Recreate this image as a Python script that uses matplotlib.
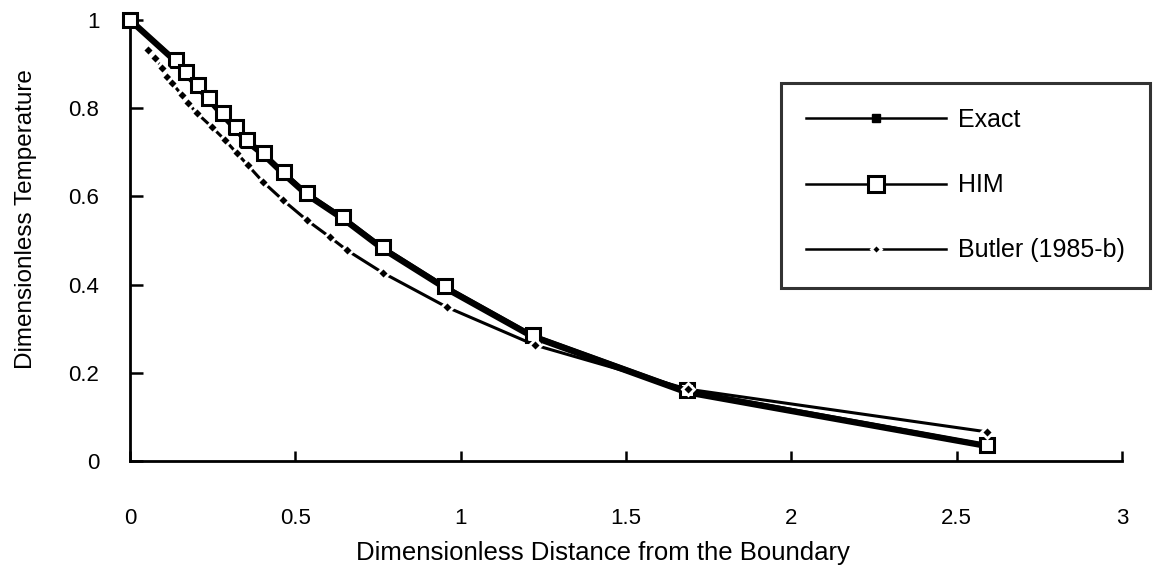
import matplotlib
matplotlib.use("Agg")
import matplotlib.pyplot as plt

# temperature profiles vs. distance from the boundary
him_x = [0.0, 0.14, 0.17, 0.205, 0.24, 0.28, 0.32, 0.355, 0.405, 0.465, 0.535, 0.645, 0.765, 0.952, 1.218, 1.683, 2.592]
him_y = [1.0, 0.909, 0.882, 0.853, 0.823, 0.789, 0.757, 0.728, 0.698, 0.655, 0.608, 0.553, 0.485, 0.397, 0.286, 0.160, 0.036]

exact_x = [0.0, 0.14, 0.17, 0.205, 0.24, 0.28, 0.32, 0.355, 0.405, 0.465, 0.535, 0.645, 0.765, 0.952, 1.218, 1.683, 2.592]
exact_y = [1.0, 0.905, 0.878, 0.849, 0.819, 0.785, 0.753, 0.724, 0.694, 0.651, 0.604, 0.549, 0.481, 0.393, 0.282, 0.156, 0.034]

butler_x = [0.054, 0.076, 0.097, 0.112, 0.127, 0.157, 0.175, 0.202, 0.248, 0.287, 0.323, 0.356,
            0.402, 0.462, 0.535, 0.604, 0.656, 0.764, 0.958, 1.224, 1.686, 2.592]
butler_y = [0.932, 0.914, 0.891, 0.871, 0.857, 0.830, 0.812, 0.789, 0.757, 0.728, 0.698, 0.671,
            0.633, 0.592, 0.546, 0.508, 0.478, 0.427, 0.349, 0.263, 0.163, 0.066]

x_ticks = [0, 0.5, 1, 1.5, 2, 2.5, 3]
x_tick_labels = ["0", "0.5", "1", "1.5", "2", "2.5", "3"]
y_ticks = [0, 0.2, 0.4, 0.6, 0.8, 1]
y_tick_labels = ["0", "0.2", "0.4", "0.6", "0.8", "1"]

plt.rcParams["font.family"] = ["Liberation Sans", "DejaVu Sans"]

fig = plt.figure(figsize=(11.57, 5.67), dpi=100)
ax = fig.add_axes([130 / 1157, 1 - 461 / 567, 992 / 1157, 441 / 567])

ax.plot(exact_x, exact_y, color="black", lw=4.5, marker="s", ms=5,
        mfc="black", mec="black", clip_on=False, zorder=3, label="Exact")
ax.plot(him_x, him_y, color="black", lw=2.5, marker="s", ms=10,
        mfc="white", mec="black", mew=2.2, clip_on=False, zorder=4, label="HIM")
ax.plot(butler_x, butler_y, color="black", lw=2.2, linestyle="-",
        marker="D", ms=6, mfc="black", mec="white", mew=2.0,
        clip_on=False, zorder=5, label="Butler (1985-b)")

ax.set_xlim(0, 3)
ax.set_ylim(0, 1)
ax.spines["top"].set_visible(False)
ax.spines["right"].set_visible(False)
for side in ("left", "bottom"):
    ax.spines[side].set_linewidth(2)

ax.set_xticks(x_ticks)
ax.set_xticklabels(x_tick_labels)
ax.set_yticks(y_ticks)
ax.set_yticklabels(y_tick_labels)
ax.tick_params(axis="both", direction="in", width=1.8, labelsize=16)
ax.tick_params(axis="x", length=7, pad=34)
ax.tick_params(axis="y", length=9, pad=22)

ax.set_xlabel("Dimensionless Distance from the Boundary", fontsize=18.5)
ax.xaxis.set_label_coords((603 - 130) / 992, -(541 - 461) / 441)
ax.set_ylabel("Dimensionless Temperature", fontsize=17.5)
ax.yaxis.set_label_coords((37 - 130) / 992, (461 - 219) / 441)

leg = ax.legend(loc="upper left", bbox_to_anchor=(781 / 1157, 1 - 83 / 567),
                bbox_transform=fig.transFigure, borderaxespad=0, frameon=True,
                fancybox=False, fontsize=18, handlelength=5.6, handletextpad=0.5,
                labelspacing=1.65, borderpad=1.0)
leg.get_frame().set_edgecolor("black")
leg.get_frame().set_linewidth(2.2)
for line, size in zip(leg.get_lines(), (6, 11, 5)):
    line.set_linewidth(1.8)
    line.set_markersize(size)

fig.savefig("out.png", dpi=100)
